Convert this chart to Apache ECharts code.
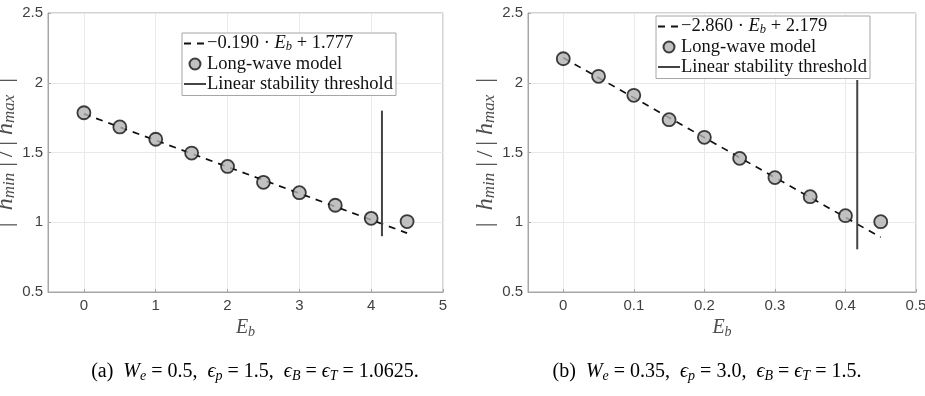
<!DOCTYPE html>
<html>
<head>
<meta charset="utf-8">
<script src="https://cdn.jsdelivr.net/npm/echarts@6/dist/echarts.min.js"></script>
<style>
  html, body { margin: 0; padding: 0; background: #fff; }
  #chart { width: 925px; height: 396px; }
</style>
</head>
<body>
<div id="chart"></div>
<script>
// (a) We = 0.5
const ebA = [0, 0.5, 1, 1.5, 2, 2.5, 3, 3.5, 4, 4.5];
const ratioA = [1.785, 1.683, 1.595, 1.496, 1.40, 1.286, 1.212, 1.122, 1.028, 1.005];
const fitAx = [0, 4.5];
const fitAy = [1.777, 0.922];
const thrAx = [4.15, 4.15];
const thrAy = [0.9, 1.8];

// (b) We = 0.35
const ebB = [0, 0.05, 0.1, 0.15, 0.2, 0.25, 0.3, 0.35, 0.4, 0.45];
const ratioB = [2.172, 2.046, 1.91, 1.735, 1.609, 1.458, 1.32, 1.183, 1.047, 1.004];
const fitBx = [0, 0.45];
const fitBy = [2.179, 0.892];
const thrBx = [0.4167, 0.4167];
const thrBy = [0.806, 2.02];

const serif = "'Liberation Serif', 'DejaVu Serif', serif";
const sans = "'Liberation Sans', Arial, sans-serif";

// rich text styles: t = upright, i = math italic, s = subscript
function makeRich(size, subSize, color, lh) {
  return {
    t: { fontFamily: serif, fontSize: size, color: color, lineHeight: lh },
    i: { fontFamily: serif, fontSize: size, fontStyle: 'italic', color: color, lineHeight: lh },
    s: { fontFamily: serif, fontSize: subSize, fontStyle: 'italic', color: color, lineHeight: lh, verticalAlign: 'bottom' }
  };
}
const legendRich = makeRich(18.5, 12.5, '#111', 20);
const nameRich = makeRich(24, 17, '#4d4d4d', 26);
const xNameRich = makeRich(20, 14, '#4d4d4d', 22);
const capRich = makeRich(20, 14, '#222', 22);

const fitNameA = '\u22120.190 \u00b7 Eb + 1.777';
const fitNameB = '\u22122.860 \u00b7 Eb + 2.179';
const legendLabels = {};
legendLabels[fitNameA] = '{t|\u22120.190 \u00b7 }{i|E}{s|b}{t| + 1.777}';
legendLabels[fitNameB] = '{t|\u22122.860 \u00b7 }{i|E}{s|b}{t| + 2.179}';

function pairs(xs, ys) {
  return xs.map((x, k) => [x, ys[k]]);
}

const frame = '#a6a6a6';

function xAxisFor(gridIndex, min, max) {
  return {
    type: 'value', gridIndex: gridIndex, min: min, max: max,
    name: '{i|E}{s|b}', nameLocation: 'middle', nameGap: 24,
    nameTextStyle: { rich: xNameRich },
    axisLine: { show: true, onZero: false, lineStyle: { color: frame } },
    axisTick: { show: true, inside: true, length: 3, lineStyle: { color: frame } },
    axisLabel: {
      margin: 6, fontFamily: sans, fontSize: 15, color: '#404040',
      formatter: v => (v < 0 ? '' : String(+v.toFixed(2)))
    },
    splitLine: { show: true, lineStyle: { color: '#e9e9e9' } }
  };
}
function yAxisFor(gridIndex) {
  return {
    type: 'value', gridIndex: gridIndex, min: 0.5, max: 2.5, interval: 0.5,
    name: '{t||  }{i|h}{s|min}{t| |\u2009/\u2009| }{i|h}{s|max}{t|  |}',
    nameLocation: 'middle', nameRotate: 90, nameGap: 27,
    nameTextStyle: { rich: nameRich },
    axisLine: { show: true, onZero: false, lineStyle: { color: frame } },
    axisTick: { show: true, inside: true, length: 3, lineStyle: { color: frame } },
    axisLabel: { margin: 5, fontFamily: sans, fontSize: 15, color: '#404040' },
    splitLine: { show: true, lineStyle: { color: '#e9e9e9' } }
  };
}

const markerStyle = { color: '#b2b2b2', borderColor: '#111', borderWidth: 1.8 };

function seriesFor(idx, fitName, ex, ey, fx, fy, tx, ty) {
  return [
    {
      name: fitName, type: 'line', xAxisIndex: idx, yAxisIndex: idx,
      data: pairs(fx, fy), symbol: 'none', z: 2,
      itemStyle: { color: '#111' },
      lineStyle: { color: '#111', width: 1.7, type: [7, 6] }
    },
    {
      name: 'Long-wave model', type: 'scatter', xAxisIndex: idx, yAxisIndex: idx,
      data: pairs(ex, ey), symbol: 'circle', symbolSize: 13, z: 3,
      itemStyle: markerStyle
    },
    {
      name: 'Linear stability threshold', type: 'line', xAxisIndex: idx, yAxisIndex: idx,
      data: pairs(tx, ty), symbol: 'none', z: 4,
      itemStyle: { color: '#444' },
      lineStyle: { color: '#444', width: 2 }
    }
  ];
}

const noSymbol = { color: 'rgba(0,0,0,0)', borderWidth: 0 };

function legendFor(left, top, fitName) {
  return {
    orient: 'vertical', left: left, top: top, width: 210,
    data: [
      { name: fitName, itemStyle: noSymbol },
      { name: 'Long-wave model' },
      { name: 'Linear stability threshold', itemStyle: noSymbol }
    ],
    selectedMode: false,
    backgroundColor: '#fff', borderColor: frame, borderWidth: 1,
    borderRadius: 0, padding: [1, 3, 2, 1], itemGap: 1,
    itemWidth: 22, itemHeight: 11,
    formatter: name => legendLabels[name] || '{t|' + name + '}',
    textStyle: { padding: [0, 0, 0, -4], rich: legendRich }
  };
}

const chart = echarts.init(document.getElementById('chart'), null, { renderer: 'canvas' });
chart.setOption({
  animation: false,
  backgroundColor: '#fff',
  grid: [
    { left: 48, top: 13, width: 395, height: 279, outerBoundsMode: 'none', containLabel: false,
      show: true, borderColor: frame, borderWidth: 1 },
    { left: 528, top: 13, width: 388, height: 279, outerBoundsMode: 'none', containLabel: false,
      show: true, borderColor: frame, borderWidth: 1 }
  ],
  xAxis: [xAxisFor(0, -0.5, 5), xAxisFor(1, -0.05, 0.5)],
  yAxis: [yAxisFor(0), yAxisFor(1)],
  legend: [legendFor(182, 33, fitNameA), legendFor(656, 16, fitNameB)],
  series: seriesFor(0, fitNameA, ebA, ratioA, fitAx, fitAy, thrAx, thrAy)
    .concat(seriesFor(1, fitNameB, ebB, ratioB, fitBx, fitBy, thrBx, thrBy)),
  graphic: [
    {
      type: 'text', x: 255, y: 372,
      style: {
        text: '{t|(a)  }{i|W}{s|e}{t| = 0.5,  }{i|\u03f5}{s|p}{t| = 1.5,  }{i|\u03f5}{s|B}{t| = }{i|\u03f5}{s|T}{t| = 1.0625.}',
        rich: capRich, align: 'center', verticalAlign: 'middle'
      }
    },
    {
      type: 'text', x: 707, y: 372,
      style: {
        text: '{t|(b)  }{i|W}{s|e}{t| = 0.35,  }{i|\u03f5}{s|p}{t| = 3.0,  }{i|\u03f5}{s|B}{t| = }{i|\u03f5}{s|T}{t| = 1.5.}',
        rich: capRich, align: 'center', verticalAlign: 'middle'
      }
    }
  ]
});
</script>
</body>
</html>
